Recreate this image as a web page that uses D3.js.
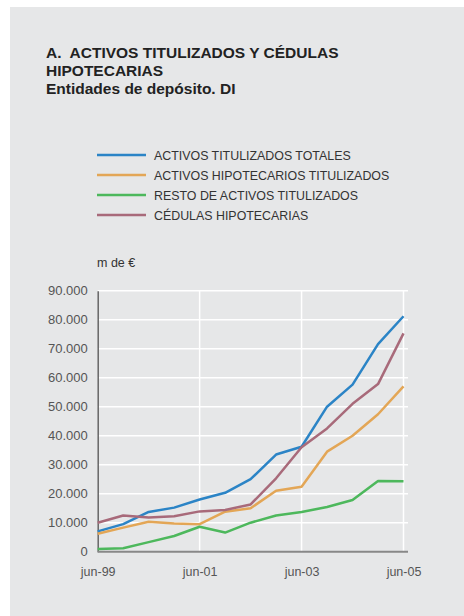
<!DOCTYPE html>
<html>
<head>
<meta charset="utf-8">
<script src="https://cdn.jsdelivr.net/npm/d3@7"></script>
<style>
  body { margin: 0; background: #fff; }
  svg { display: block; font-family: "Liberation Sans", Arial, sans-serif; }
</style>
</head>
<body>
<div class="chart"></div>
<script>
// semiannual periods, jun-99 .. jun-05
const periods = ["jun-99", "dic-99", "jun-00", "dic-00", "jun-01", "dic-01", "jun-02",
  "dic-02", "jun-03", "dic-03", "jun-04", "dic-04", "jun-05"];
const xTicks = ["jun-99", "jun-01", "jun-03", "jun-05"];
const yTicks = [0, 10000, 20000, 30000, 40000, 50000, 60000, 70000, 80000, 90000];

const totales = [7000, 9500, 13700, 15200, 18000, 20300, 25000, 33500, 36200, 50000, 57600, 71600, 81200];
const hipotecarios = [6200, 8300, 10300, 9700, 9500, 13800, 15000, 21000, 22400, 34500, 40000, 47400, 57000];
const resto = [900, 1200, 3300, 5400, 8600, 6600, 10000, 12500, 13700, 15400, 17800, 24400, 24300];
const cedulas = [10000, 12500, 11800, 12200, 13900, 14400, 16300, 25300, 36000, 42500, 51000, 57800, 75300];

const seriesNames = ["ACTIVOS TITULIZADOS TOTALES", "ACTIVOS HIPOTECARIOS TITULIZADOS",
  "RESTO DE ACTIVOS TITULIZADOS", "CÉDULAS HIPOTECARIAS"];
const seriesValues = [totales, hipotecarios, resto, cedulas];
const colors = ["#2b84c6", "#e3a656", "#4db85c", "#a86a7a"];

const width = 464, height = 616;
const svg = d3.select(".chart").append("svg")
  .attr("width", width)
  .attr("height", height);

svg.append("rect")
  .attr("x", 10).attr("y", 7)
  .attr("width", width - 10).attr("height", height - 7)
  .attr("fill", "#e6e7e8");

// title
const title = svg.append("text")
  .attr("font-size", 15.5).attr("font-weight", "bold").attr("fill", "#222");
title.append("tspan").attr("x", 46).attr("y", 58).attr("xml:space", "preserve").text("A.  ACTIVOS TITULIZADOS Y CÉDULAS");
title.append("tspan").attr("x", 46).attr("y", 76).text("HIPOTECARIAS");
title.append("tspan").attr("x", 46).attr("y", 94).text("Entidades de depósito. DI");

// legend
seriesNames.forEach((name, i) => {
  const ly = 155 + i * 20;
  svg.append("line")
    .attr("x1", 97).attr("x2", 146)
    .attr("y1", ly).attr("y2", ly)
    .attr("stroke", colors[i]).attr("stroke-width", 2.5);
  svg.append("text")
    .attr("x", 154).attr("y", ly + 4.5)
    .attr("font-size", 12.4).attr("fill", "#333")
    .text(name);
});

svg.append("text")
  .attr("x", 97).attr("y", 267)
  .attr("font-size", 12.5).attr("fill", "#333")
  .text("m de €");

const x = d3.scalePoint().domain(periods).range([97.7, 403.5]);
const y = d3.scaleLinear().domain([0, 90000]).range([551.7, 290.7]);
const xEnd = 408;

const fmt = d3.formatLocale({ decimal: ",", thousands: ".", grouping: [3], currency: ["", "€"] }).format(",.0f");

// gridlines
svg.append("g").selectAll("line")
  .data(yTicks.filter(d => d > 0))
  .join("line")
  .attr("x1", x.range()[0]).attr("x2", xEnd)
  .attr("y1", d => y(d)).attr("y2", d => y(d))
  .attr("stroke", "#fff").attr("stroke-width", 1.5);
svg.append("g").selectAll("line")
  .data(xTicks.slice(1))
  .join("line")
  .attr("x1", d => x(d)).attr("x2", d => x(d))
  .attr("y1", y(0)).attr("y2", y(90000))
  .attr("stroke", "#fff").attr("stroke-width", 1.5);

// axes
const yAxis = svg.append("g")
  .attr("transform", `translate(${x.range()[0]},0)`)
  .call(d3.axisLeft(y).tickValues(yTicks).tickFormat(fmt).tickSize(0).tickPadding(10));
yAxis.select(".domain").attr("stroke", "#666").attr("stroke-width", 1.5);
yAxis.selectAll("text").attr("font-size", 13).attr("fill", "#555")
  .attr("font-family", "Liberation Sans, Arial, sans-serif");

const xAxis = svg.append("g")
  .attr("transform", `translate(0,${y(0)})`)
  .call(d3.axisBottom(x).tickValues(xTicks).tickSize(0).tickPadding(15));
xAxis.select(".domain").remove();
xAxis.selectAll("text").attr("font-size", 12.5).attr("fill", "#555")
  .attr("font-family", "Liberation Sans, Arial, sans-serif");
svg.append("line")
  .attr("x1", x.range()[0]).attr("x2", xEnd)
  .attr("y1", y(0)).attr("y2", y(0))
  .attr("stroke", "#888").attr("stroke-width", 2);

// series lines
const line = d3.line()
  .x((d, i) => x(periods[i]))
  .y(d => y(d));
seriesValues.forEach((vals, i) => {
  svg.append("path")
    .datum(vals)
    .attr("d", line)
    .attr("fill", "none")
    .attr("stroke", colors[i])
    .attr("stroke-width", 2.5)
    .attr("stroke-linejoin", "round");
});
</script>
</body>
</html>
